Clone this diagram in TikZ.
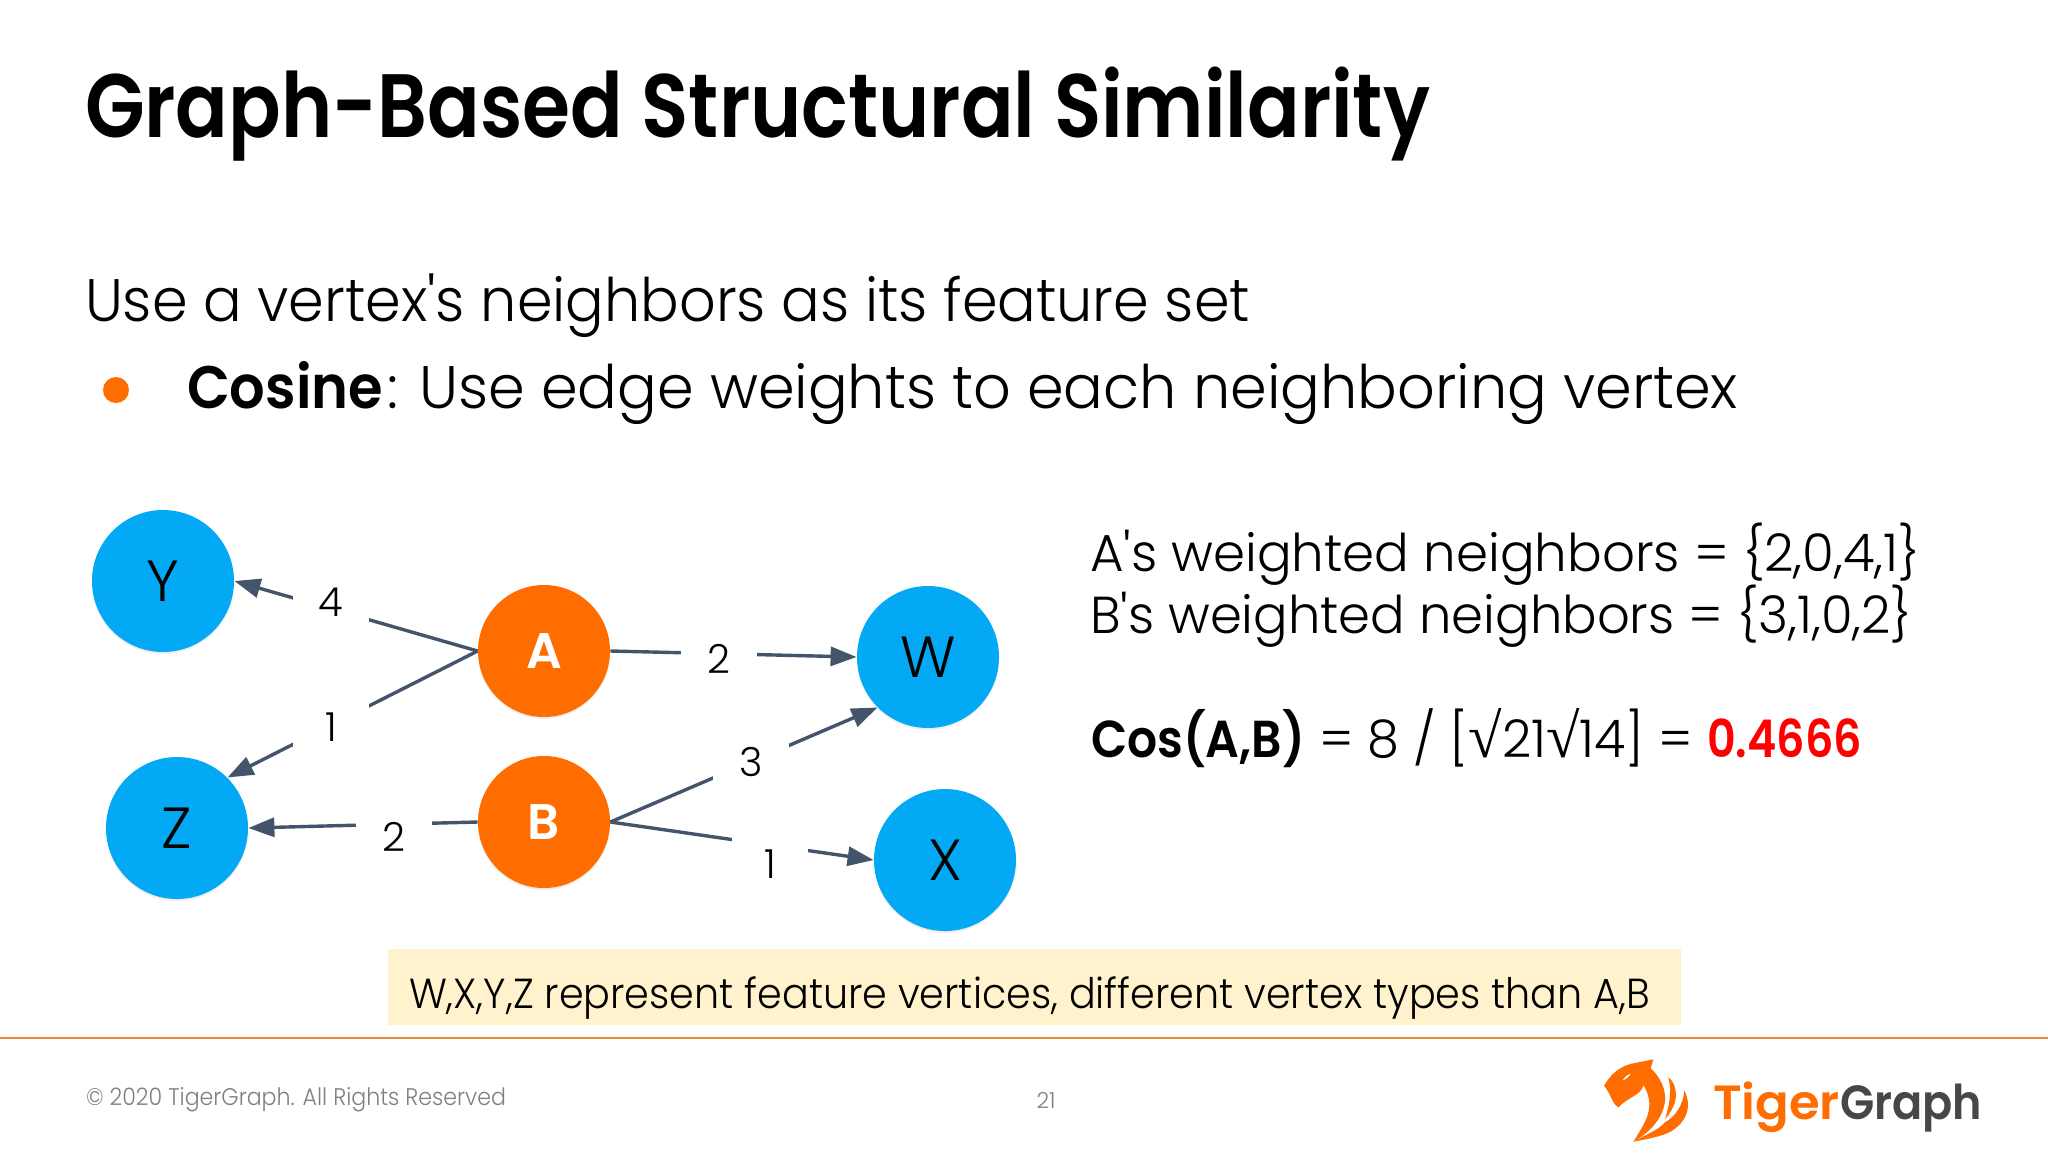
\documentclass[tikz,border=0pt]{standalone}
\usepackage{graphicx}
\usepackage{fontspec}
\setmainfont{Poppins}
\newfontfamily\lightf{Poppins Light}
\newfontfamily\semif{Poppins SemiBold}
\newfontfamily\symf{Liberation Serif}
\usetikzlibrary{arrows.meta,shadows}
\newcommand{\fitw}[2]{\resizebox{\dimexpr#1pt/2\relax}{\height}{#2}}
\definecolor{edgecol}{HTML}{44546A}
\definecolor{vblue}{HTML}{03A9F4}
\definecolor{vorange}{HTML}{FF6D00}
\definecolor{noteyellow}{HTML}{FFF2CC}
\definecolor{rulecol}{HTML}{E88A3A}
\definecolor{footgray}{HTML}{808080}
\definecolor{logodark}{HTML}{47474A}
\tikzset{
  x=0.5pt,y=-0.5pt,
  txt/.style={anchor=base west,inner sep=0pt,outer sep=0pt},
  vert/.style={circle,inner sep=0pt,minimum size=71pt,text=black,font=\lightf\fontsize{29}{29}\selectfont,
     drop shadow={opacity=.12,shadow xshift=0pt,shadow yshift=-1pt}},
  feat/.style={vert,fill=vblue},
  ent/.style={vert,fill=vorange,minimum size=66pt,text=white,font=\semif\fontsize{25}{25}\selectfont},
  edge/.style={draw=edgecol,line width=1.7pt,-{Triangle[length=13pt,width=9.5pt]}},
  wlabel/.style={fill=white,inner sep=0pt,minimum width=38pt,minimum height=30pt,font=\lightf\fontsize{20}{20}\selectfont},
}
\begin{document}
\begin{tikzpicture}
\useasboundingbox (0,0) rectangle (2048,1152);
\fill[white] (0,0) rectangle (2048,1152);
\node[txt,font=\semif\fontsize{45}{45}\selectfont] (title) at (85,137) {\fitw{1345}{Graph-Based Structural Similarity}};
\node[txt,font=\lightf\fontsize{30}{30}\selectfont] (intro) at (85,321) {\fitw{1165}{Use a vertex's neighbors as its feature set}};
\node[circle,fill=vorange,inner sep=0pt,minimum size=13pt] (bul) at (116,390) {};
\node[txt,font=\lightf\fontsize{30}{30}\selectfont] (cos) at (187,408) {\fitw{196}{\semif Cosine}\hspace{2pt}\fitw{1351}{: Use edge weights to each neighboring vertex}};

\node[feat] (Y) at (163,581) {Y};
\node[feat] (Z) at (177,828) {Z};
\node[ent] (A) at (544,651) {A};
\node[ent] (B) at (544,822) {B};
\node[feat] (W) at (928,657) {W};
\node[feat] (X) at (945,860) {X};

\draw[edge] (A.west) -- (Y.east);
\draw[edge] (A.west) -- (Z.45);
\draw[edge] (A.east) -- (W.west);
\draw[edge] (B.west) -- (Z.east);
\draw[edge] (B.east) -- (W.225);
\draw[edge] (B.east) -- (X.west);
\node[wlabel] (l4) at (331,602) {4};
\node[wlabel] (l1) at (331,727) {1};
\node[wlabel] (l2) at (719,659) {2};
\node[wlabel] (l3) at (751,762) {3};
\node[wlabel] (l5) at (394,837) {2};
\node[wlabel] (l6) at (770,864) {1};

\node[txt,font=\lightf\fontsize{26}{26}\selectfont] (an) at (1090,571) {\fitw{830}{A's weighted neighbors = \{2,0,4,1\}}};
\node[txt,font=\lightf\fontsize{26}{26}\selectfont] (bn) at (1090,633) {\fitw{822}{B's weighted neighbors = \{3,1,0,2\}}};
\node[txt,font=\lightf\fontsize{26}{26}\selectfont] (cf) at (1091,757) {\fitw{214}{\semif Cos(A,B)}\hspace{7pt}\fitw{374}{= 8 / [{\symf\fontsize{31}{31}\selectfont √}21{\symf\fontsize{31}{31}\selectfont √}14] =}\hspace{7pt}\fitw{155}{\semif\color{red}0.4666}};

\fill[noteyellow] (388,949) rectangle (1681,1025);
\node[txt,font=\lightf\fontsize{21}{21}\selectfont] (note) at (409,1008) {\fitw{1241}{W,X,Y,Z represent feature vertices, different vertex types than A,B}};

\draw[rulecol,line width=1pt] (0,1038) -- (2048,1038);
\node[txt,text=footgray,font=\lightf\fontsize{12}{12}\selectfont] (foot) at (86,1105) {\fitw{420}{© 2020 TigerGraph. All Rights Reserved}};
\node[inner sep=0pt,text=footgray,font=\lightf\fontsize{11}{11}\selectfont] (pg) at (1046,1100) {21};

\begin{scope}[shift={(1590,1045)},x=0.1667pt,y=-0.1667pt]
\fill[vorange] (42,122) .. controls (60,92) and (80,70) .. (120,57) -- (190,43) -- (182,70)
  .. controls (215,100) and (230,140) .. (224,175) .. controls (215,225) and (175,265) .. (130,290)
  .. controls (155,250) and (178,215) .. (178,180) .. controls (178,155) and (170,135) .. (160,120)
  .. controls (155,150) and (115,155) .. (85,187) .. controls (65,175) and (62,145) .. cycle;
\fill[white] (98,106) .. controls (105,95) and (112,88) .. (122,85) .. controls (118,95) and (108,103) .. cycle;
\fill[vorange] (235,97) .. controls (262,118) and (272,170) .. (225,222) .. controls (240,175) and (245,135) .. cycle;
\fill[vorange] (283,137) .. controls (305,180) and (295,225) .. (245,258) .. controls (215,275) and (170,282) .. (130,290)
  .. controls (165,270) and (205,255) .. (225,232) .. controls (255,215) and (280,180) .. cycle;
\end{scope}
\node[txt,text=vorange,font=\semif\fontsize{24}{24}\selectfont] (logo) at (1713,1119) {\fitw{127}{Tiger}\fitw{142}{\textcolor{logodark}{Graph}}};
\end{tikzpicture}
\end{document}
